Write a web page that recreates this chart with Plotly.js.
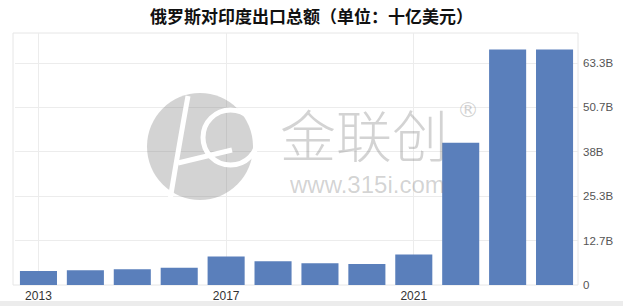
<!DOCTYPE html>
<html>
<head>
<meta charset="utf-8">
<script src="https://cdn.plot.ly/plotly-3.0.1.min.js"></script>
<style>
  html, body { margin: 0; padding: 0; background: #ffffff; }
  #chart { width: 623px; height: 306px; }
</style>
</head>
<body>
<div id="chart"></div>
<script>
// Russia's exports to India, billions of US dollars
const years = [2013, 2014, 2015, 2016, 2017, 2018, 2019, 2020, 2021, 2022, 2023, 2024];
const exportsBn = [4.0, 4.2, 4.5, 4.9, 8.1, 6.8, 6.2, 6.0, 8.7, 40.6, 67.2, 67.2];

// axis ticks
const xTickYears = [2013, 2017, 2021];
const yTickVals = [0, 12.667, 25.333, 38, 50.667, 63.333];
const yTickText = ['0', '12.7B', '25.3B', '38B', '50.7B', '63.3B'];

const titleText = '俄罗斯对印度出口总额（单位：十亿美元）';

// plot area in pixels
const W = 623, H = 306;
const L = 15, R = 578, T = 33, B = 285;
const px = (x) => (x - L) / (R - L);
const py = (y) => (B - y) / (B - T);

const trace = {
  type: 'bar',
  x: years,
  y: exportsBn,
  marker: { color: '#5a7fbb' },
  hoverinfo: 'x+y'
};

const wmGray = 'rgba(120,120,120,0.33)';

const layout = {
  width: W,
  height: H,
  margin: { l: L, r: W - R, t: T, b: H - B, pad: 0 },
  paper_bgcolor: '#ffffff',
  plot_bgcolor: '#ffffff',
  showlegend: false,
  bargap: 0.21,
  title: {
    text: titleText,
    x: 0.5,
    xanchor: 'center',
    y: 1 - 17 / H,
    yanchor: 'middle',
    font: { family: '"Noto Sans CJK SC", sans-serif', size: 17, color: '#111111', weight: 'bold' }
  },
  xaxis: {
    range: [2012.5, 2024.5],
    tickmode: 'array',
    tickvals: xTickYears,
    ticktext: xTickYears.map(String),
    showgrid: true,
    gridcolor: '#ececec',
    gridwidth: 1,
    zeroline: false,
    showline: false,
    ticks: '',
    ticklabelstandoff: 2,
    tickfont: { family: '"Liberation Sans", Arial, sans-serif', size: 12, color: '#333333' },
    fixedrange: true
  },
  yaxis: {
    range: [0, 71.9],
    side: 'right',
    tickmode: 'array',
    tickvals: yTickVals,
    ticktext: yTickText,
    showgrid: true,
    gridcolor: '#ececec',
    gridwidth: 1,
    zeroline: false,
    showline: false,
    ticks: '',
    ticklabelstandoff: 4,
    tickfont: { family: '"Liberation Sans", Arial, sans-serif', size: 11.5, color: '#555555' },
    fixedrange: true
  },
  shapes: [
    // light frame around the plot area
    { type: 'rect', xref: 'paper', yref: 'paper', x0: px(13), x1: 1, y0: 0, y1: 1,
      line: { color: '#e6e6e6', width: 1 }, layer: 'below' },
    // soft grey band along the bottom edge
    { type: 'rect', xref: 'paper', yref: 'paper', x0: px(0), x1: px(W), y0: py(301), y1: py(306),
      line: { width: 0 }, fillcolor: '#ececec', layer: 'below' },
    // watermark logo: grey disc with white cut lines
    { type: 'circle', xref: 'paper', yref: 'paper', x0: px(147), x1: px(253), y0: py(200), y1: py(93),
      line: { width: 0 }, fillcolor: wmGray, layer: 'above' },
    { type: 'path', xref: 'paper', yref: 'paper',
      path: `M ${px(188)},${py(96)} Q ${px(180)},${py(140)} ${px(170)},${py(200)}`,
      line: { color: '#ffffff', width: 5 }, layer: 'above' },
    { type: 'path', xref: 'paper', yref: 'paper',
      path: `M ${px(178)},${py(163)} L ${px(232)},${py(150)}`,
      line: { color: '#ffffff', width: 5 }, layer: 'above' },
    { type: 'circle', xref: 'paper', yref: 'paper', x0: px(203), x1: px(258), y0: py(165), y1: py(110),
      line: { color: '#ffffff', width: 5 }, layer: 'above' }
  ],
  annotations: [
    { xref: 'paper', yref: 'paper', x: px(364), y: py(132), xanchor: 'center', yanchor: 'middle',
      text: '金联创', showarrow: false,
      font: { family: '"Noto Sans CJK SC", sans-serif', size: 56, color: wmGray, weight: 300 } },
    { xref: 'paper', yref: 'paper', x: px(468), y: py(109), xanchor: 'center', yanchor: 'middle',
      text: '®', showarrow: false,
      font: { family: '"DejaVu Sans", sans-serif', size: 22, color: wmGray } },
    { xref: 'paper', yref: 'paper', x: px(367), y: py(184), xanchor: 'center', yanchor: 'middle',
      text: 'www.315i.com', showarrow: false,
      font: { family: '"Liberation Sans", Arial, sans-serif', size: 24, color: wmGray } }
  ]
};

Plotly.newPlot('chart', [trace], layout, { displayModeBar: false, staticPlot: true });
</script>
</body>
</html>
